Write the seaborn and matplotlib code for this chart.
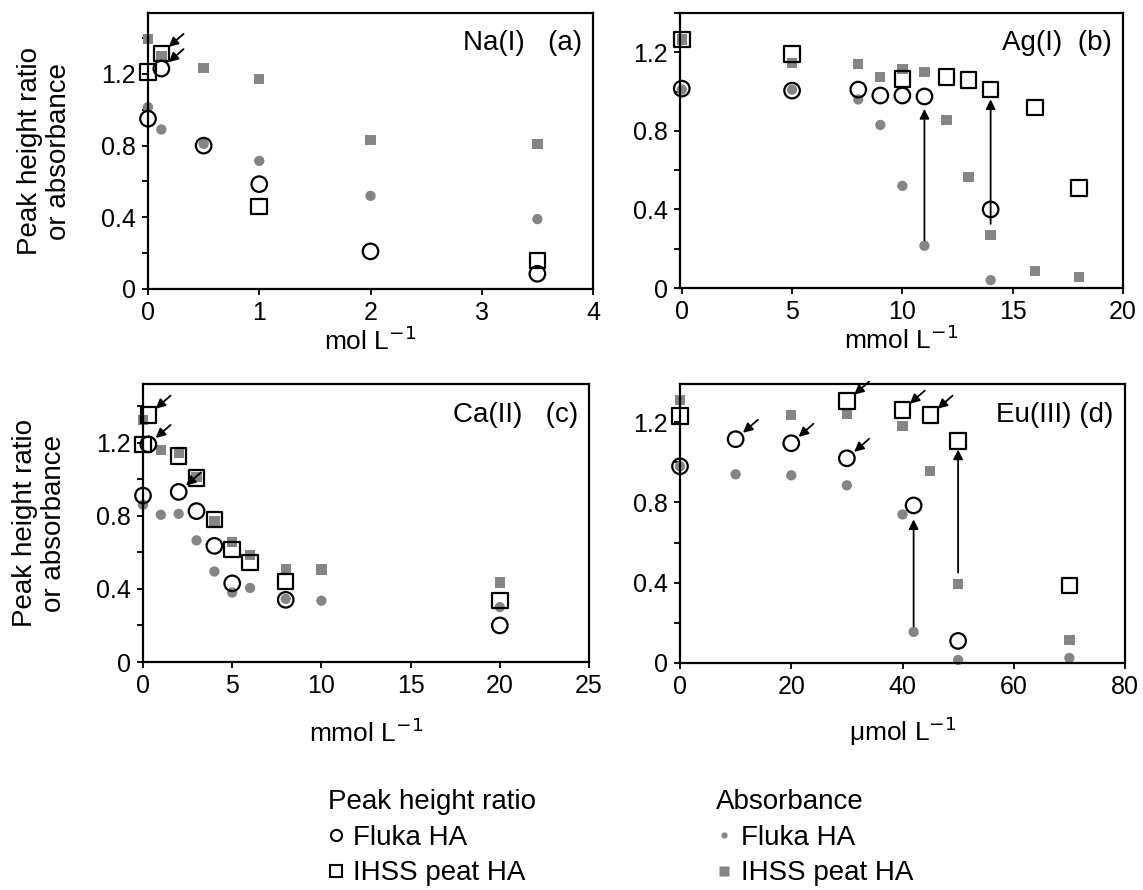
import matplotlib
matplotlib.use("Agg")
import matplotlib.pyplot as plt
from matplotlib.lines import Line2D
from matplotlib.ticker import MultipleLocator
import seaborn as sns

# ---- data ----
# (a) Na(I), mol/L
na_phr_fluka_x = [0, 0.12, 0.5, 1, 2, 3.5]
na_phr_fluka_y = [0.95, 1.23, 0.80, 0.585, 0.21, 0.085]
na_phr_ihss_x = [0, 0.12, 1, 3.5]
na_phr_ihss_y = [1.21, 1.315, 0.46, 0.16]
na_abs_fluka_x = [0, 0.12, 0.5, 1, 2, 3.5]
na_abs_fluka_y = [1.015, 0.89, 0.81, 0.715, 0.52, 0.39]
na_abs_ihss_x = [0, 0.12, 0.5, 1, 2, 3.5]
na_abs_ihss_y = [1.395, 1.30, 1.235, 1.17, 0.83, 0.81]

# (b) Ag(I), mmol/L
ag_phr_fluka_x = [0, 5, 8, 9, 10, 11, 14]
ag_phr_fluka_y = [1.015, 1.005, 1.01, 0.98, 0.98, 0.975, 0.40]
ag_phr_ihss_x = [0, 5, 10, 12, 13, 14, 16, 18]
ag_phr_ihss_y = [1.265, 1.19, 1.065, 1.075, 1.06, 1.01, 0.92, 0.51]
ag_abs_fluka_x = [0, 5, 8, 9, 10, 11, 14]
ag_abs_fluka_y = [1.01, 1.01, 0.96, 0.83, 0.52, 0.215, 0.04]
ag_abs_ihss_x = [0, 5, 8, 9, 10, 11, 12, 13, 14, 16, 18]
ag_abs_ihss_y = [1.265, 1.145, 1.14, 1.075, 1.115, 1.10, 0.855, 0.565, 0.27, 0.085, 0.055]

# (c) Ca(II), mmol/L
ca_phr_fluka_x = [0, 0.3, 2, 3, 4, 5, 8, 20]
ca_phr_fluka_y = [0.91, 1.19, 0.93, 0.825, 0.635, 0.43, 0.34, 0.20]
ca_phr_ihss_x = [0, 0.3, 2, 3, 4, 5, 6, 8, 20]
ca_phr_ihss_y = [1.19, 1.35, 1.125, 1.005, 0.78, 0.615, 0.545, 0.44, 0.335]
ca_abs_fluka_x = [0, 1, 2, 3, 4, 5, 6, 8, 10, 20]
ca_abs_fluka_y = [0.86, 0.805, 0.81, 0.665, 0.495, 0.38, 0.405, 0.345, 0.335, 0.30]
ca_abs_ihss_x = [0, 1, 2, 3, 4, 5, 6, 8, 10, 20]
ca_abs_ihss_y = [1.325, 1.16, 1.145, 1.01, 0.77, 0.655, 0.585, 0.51, 0.505, 0.435]

# (d) Eu(III), umol/L
eu_phr_fluka_x = [0, 10, 20, 30, 42, 50]
eu_phr_fluka_y = [0.98, 1.115, 1.095, 1.02, 0.785, 0.11]
eu_phr_ihss_x = [0, 30, 40, 45, 50, 70]
eu_phr_ihss_y = [1.23, 1.305, 1.26, 1.235, 1.105, 0.385]
eu_abs_fluka_x = [0, 10, 20, 30, 40, 42, 50, 70]
eu_abs_fluka_y = [0.98, 0.94, 0.935, 0.885, 0.74, 0.155, 0.015, 0.025]
eu_abs_ihss_x = [0, 20, 30, 40, 45, 50, 70]
eu_abs_ihss_y = [1.31, 1.235, 1.24, 1.18, 0.955, 0.395, 0.115]

panel_titles = ["Na(I)   (a)", "Ag(I)  (b)", "Ca(II)   (c)", "Eu(III) (d)"]
x_labels = ["mol L$^{-1}$", "mmol L$^{-1}$", "mmol L$^{-1}$", "μmol L$^{-1}$"]
x_ticks = [[0, 1, 2, 3, 4], [0, 5, 10, 15, 20], [0, 5, 10, 15, 20, 25], [0, 20, 40, 60, 80]]
y_ticks = [0, 0.4, 0.8, 1.2]
y_tick_labels = ["0", "0.4", "0.8", "1.2"]

sns.set_theme(style="ticks")
plt.rcParams["font.family"] = ["Liberation Sans", "DejaVu Sans"]
plt.rcParams["font.size"] = 20
for key in ["text.color", "axes.labelcolor", "xtick.color", "ytick.color", "axes.edgecolor"]:
    plt.rcParams[key] = "black"

GRAY = "#858585"
fig = plt.figure(figsize=(11.43, 8.90), dpi=100)

W, H = 1143.0, 890.0
boxes = [(148, 13, 593, 289), (680, 13, 1123, 288),
         (143, 384, 589, 662), (680, 384, 1125, 663)]
axes = [fig.add_axes([l / W, 1 - b / H, (r - l) / W, (b - t) / H]) for l, t, r, b in boxes]

panels = [
    (na_phr_fluka_x, na_phr_fluka_y, na_phr_ihss_x, na_phr_ihss_y,
     na_abs_fluka_x, na_abs_fluka_y, na_abs_ihss_x, na_abs_ihss_y),
    (ag_phr_fluka_x, ag_phr_fluka_y, ag_phr_ihss_x, ag_phr_ihss_y,
     ag_abs_fluka_x, ag_abs_fluka_y, ag_abs_ihss_x, ag_abs_ihss_y),
    (ca_phr_fluka_x, ca_phr_fluka_y, ca_phr_ihss_x, ca_phr_ihss_y,
     ca_abs_fluka_x, ca_abs_fluka_y, ca_abs_ihss_x, ca_abs_ihss_y),
    (eu_phr_fluka_x, eu_phr_fluka_y, eu_phr_ihss_x, eu_phr_ihss_y,
     eu_abs_fluka_x, eu_abs_fluka_y, eu_abs_ihss_x, eu_abs_ihss_y),
]
xlims = [(0, 4), (-0.08, 20), (0, 25), (0, 80)]
ylims = [1.54, 1.40, 1.52, 1.39]
xlabel_y = [-0.135, -0.135, -0.205, -0.185]

for i, (ax, data) in enumerate(zip(axes, panels)):
    pfx, pfy, pix, piy, afx, afy, aix, aiy = data
    # absorbance (grey, filled) first so the open markers sit on top
    sns.scatterplot(x=aix, y=aiy, marker="s", s=55, color=GRAY, edgecolor="none",
                    ax=ax, clip_on=False, zorder=2)
    sns.scatterplot(x=afx, y=afy, marker="o", s=55, color=GRAY, edgecolor="none",
                    ax=ax, clip_on=False, zorder=2)
    sns.scatterplot(x=pix, y=piy, marker="s", s=125, color="black", facecolor="none",
                    edgecolor="black", linewidth=1.6, ax=ax, clip_on=False, zorder=3)
    sns.scatterplot(x=pfx, y=pfy, marker="o", s=125, color="black", facecolor="none",
                    edgecolor="black", linewidth=1.6, ax=ax, clip_on=False, zorder=3)

    ax.set_xlim(*xlims[i])
    ax.set_ylim(0, ylims[i])
    ax.set_xticks(x_ticks[i])
    ax.set_yticks(y_ticks)
    ax.set_yticklabels(y_tick_labels)
    ax.yaxis.set_minor_locator(MultipleLocator(0.2))
    ax.tick_params(axis="both", which="both", direction="out", length=4.5, width=1.3,
                   color="black", labelcolor="black", pad=4, labelsize=18)
    for sp in ax.spines.values():
        sp.set_visible(True)
        sp.set_linewidth(1.6)
        sp.set_color("black")

    ax.text(0.975, 0.89, panel_titles[i], transform=ax.transAxes,
            ha="right", va="center", fontsize=20)
    ax.set_xlabel(x_labels[i], fontsize=19)
    ax.xaxis.set_label_coords(0.5, xlabel_y[i])
    if i % 2 == 0:
        ax.set_ylabel("Peak height ratio\nor absorbance", fontsize=20, linespacing=1.15)
        ax.yaxis.set_label_coords(-0.17, 0.5)
    else:
        ax.set_ylabel("")

arrow_kw = dict(arrowstyle="-|>", color="black", lw=1.3, mutation_scale=14)


def pointer(ax, x, y):
    # short diagonal arrow pointing at a marker from the upper right
    ax.annotate("", xy=(x, y), xytext=(16, 14), textcoords="offset points",
                arrowprops=dict(shrinkA=0, shrinkB=7, **arrow_kw))


def shift(ax, x0, y0, x1, y1, sa=4, sb=9):
    # vertical arrow from absorbance point to peak height ratio point
    ax.annotate("", xy=(x1, y1), xytext=(x0, y0),
                arrowprops=dict(shrinkA=sa, shrinkB=sb, **arrow_kw))


ax_a, ax_b, ax_c, ax_d = axes
pointer(ax_a, na_phr_ihss_x[1], na_phr_ihss_y[1])
pointer(ax_a, na_phr_fluka_x[1], na_phr_fluka_y[1])

shift(ax_b, ag_abs_fluka_x[5], ag_abs_fluka_y[5], ag_phr_fluka_x[5], ag_phr_fluka_y[5])
shift(ax_b, ag_abs_ihss_x[8], ag_abs_ihss_y[8], ag_phr_ihss_x[5], ag_phr_ihss_y[5], sa=8, sb=7)

pointer(ax_c, ca_phr_ihss_x[1], ca_phr_ihss_y[1])
pointer(ax_c, ca_phr_fluka_x[1], ca_phr_fluka_y[1])
pointer(ax_c, ca_phr_fluka_x[2], ca_phr_fluka_y[2])

for k in (1, 2, 3):
    pointer(ax_d, eu_phr_fluka_x[k], eu_phr_fluka_y[k])
for k in (1, 2, 3):
    pointer(ax_d, eu_phr_ihss_x[k], eu_phr_ihss_y[k])
shift(ax_d, eu_abs_fluka_x[5], eu_abs_fluka_y[5], eu_phr_fluka_x[4], eu_phr_fluka_y[4], sa=4, sb=10)
shift(ax_d, eu_abs_ihss_x[5], eu_abs_ihss_y[5], eu_phr_ihss_x[4], eu_phr_ihss_y[4], sa=8, sb=6)

# ---- legends ----
h_phr = [Line2D([], [], ls="none", marker="o", ms=8, mfc="none", mec="black", mew=1.5),
         Line2D([], [], ls="none", marker="s", ms=8, mfc="none", mec="black", mew=1.5)]
h_abs = [Line2D([], [], ls="none", marker="o", ms=4.5, mfc=GRAY, mec="none"),
         Line2D([], [], ls="none", marker="s", ms=6.5, mfc=GRAY, mec="none")]
leg_kw = dict(loc="upper left", frameon=False, fontsize=20, title_fontsize=20,
              alignment="left", borderpad=0, borderaxespad=0, handlelength=0.6,
              handletextpad=0.3, labelspacing=0.35)
fig.legend(h_phr, ["Fluka HA", "IHSS peat HA"], title="Peak height ratio",
           bbox_to_anchor=(328 / W, 1 - 789 / H), **leg_kw)
fig.legend(h_abs, ["Fluka HA", "IHSS peat HA"], title="Absorbance",
           bbox_to_anchor=(716 / W, 1 - 789 / H), **leg_kw)

fig.savefig("out.png", dpi=100)
